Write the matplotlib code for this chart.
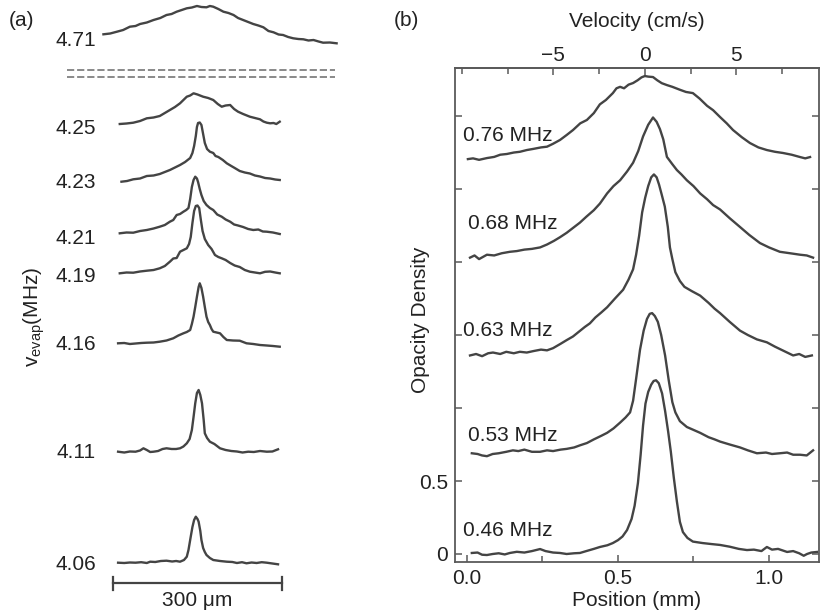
import matplotlib
matplotlib.use('Agg')
import matplotlib.pyplot as plt

plt.rcParams['font.family'] = ['Liberation Sans', 'DejaVu Sans']
plt.rcParams['mathtext.fontset'] = 'custom'
plt.rcParams['mathtext.rm'] = 'Liberation Sans'
plt.rcParams['font.size'] = 15

# ---------------- panel (a): profiles vs. evaporation frequency ----------------
# x in micrometres, heights in arbitrary units above each trace's own baseline
freqs_a = ['4.71', '4.25', '4.23', '4.21', '4.19', '4.16', '4.11', '4.06']
offsets_a = [57.1, 49.0, 43.2, 38.1, 34.1, 27.1, 16.2, 5.1]
label_y_a = [57.5, 48.7, 43.4, 37.7, 33.9, 27.1, 16.4, 5.1]

x471 = [-17, -5, 7, 18, 30, 40, 48, 60, 72, 84, 95, 104, 113, 122, 131, 140, 149, 157, 166, 172, 178, 187,
        196, 205, 214, 222, 231, 240, 249, 258, 267, 276, 285, 294, 302, 311, 320, 329, 338, 347, 356, 365,
        373, 385, 397]
h471 = [0.87, 0.95, 1.13, 1.3, 1.63, 1.7, 1.9, 2.05, 2.3, 2.5, 2.8, 2.9, 3.13, 3.3, 3.47, 3.55, 3.7, 3.6,
        3.57, 3.7, 3.63, 3.4, 3.13, 3.0, 2.8, 2.5, 2.3, 2.1, 1.9, 1.75, 1.57, 1.2, 1.07, 0.85, 0.8, 0.6, 0.47,
        0.4, 0.37, 0.25, 0.3, 0.15, 0.03, 0.05, -0.03]

x425 = [12, 24, 36, 48, 60, 72, 83, 92, 101, 110, 119, 125, 131, 137, 143, 150, 160, 169, 178, 186, 193,
        200, 208, 215, 222, 231, 243, 252, 261, 267, 273, 279, 285, 290, 296]
h425 = [0.0, 0.05, 0.13, 0.3, 0.57, 0.65, 0.8, 1.1, 1.4, 1.7, 2.07, 2.4, 2.73, 2.85, 3.07, 2.95, 2.73, 2.6,
        2.4, 2.0, 1.73, 1.85, 1.9, 1.5, 1.23, 1.0, 0.73, 0.6, 0.47, 0.25, 0.13, 0.07, 0.1, 0.0, 0.23]

x423 = [15, 25, 36, 48, 60, 72, 83, 92, 101, 110, 119, 128, 137, 141, 144, 147, 149, 151, 154, 157, 160,
        163, 167, 172, 178, 182, 187, 195, 202, 210, 217, 225, 234, 243, 252, 261, 270, 279, 288, 296]
h423 = [0.03, 0.1, 0.27, 0.35, 0.6, 0.65, 0.8, 1.0, 1.2, 1.45, 1.7, 2.0, 2.4, 2.9, 3.6, 4.6, 5.5, 5.9,
        5.95, 5.7, 4.8, 3.9, 3.3, 3.03, 2.9, 2.6, 2.5, 2.2, 1.87, 1.6, 1.37, 1.1, 0.95, 0.85, 0.65, 0.55,
        0.4, 0.35, 0.25, 0.2]

x421 = [12, 24, 36, 48, 60, 72, 83, 92, 101, 107, 113, 119, 125, 130, 134, 137, 140, 143, 146, 149, 151,
        154, 157, 161, 166, 172, 178, 185, 193, 200, 208, 215, 222, 231, 240, 249, 258, 266, 273, 284, 296]
h421 = [-0.03, 0.05, 0.03, 0.2, 0.3, 0.45, 0.63, 0.8, 1.13, 1.3, 1.8, 1.9, 2.13, 2.3, 2.5, 3.4, 4.6, 5.3,
        5.63, 5.45, 5.1, 4.4, 3.8, 3.2, 2.8, 2.5, 2.3, 1.85, 1.63, 1.35, 1.13, 0.85, 0.75, 0.6, 0.4, 0.3,
        0.35, 0.15, 0.13, 0.05, -0.1]

x419 = [12, 24, 36, 48, 60, 72, 83, 92, 101, 107, 113, 119, 125, 131, 135, 138, 141, 144, 147, 150, 153,
        156, 159, 163, 169, 175, 181, 187, 193, 200, 208, 216, 225, 234, 243, 252, 261, 270, 279, 288, 296]
h419 = [-0.03, 0.05, 0.03, 0.15, 0.23, 0.3, 0.47, 0.7, 1.13, 1.45, 1.5, 2.13, 2.3, 2.47, 2.9, 3.6, 5.0,
        6.2, 6.7, 6.75, 6.5, 5.3, 4.2, 3.4, 2.8, 2.4, 1.8, 1.6, 1.47, 1.3, 1.0, 0.75, 0.6, 0.3, 0.13, 0.05,
        -0.03, 0.12, 0.15, 0.05, -0.03]

x416 = [9, 20, 30, 40, 50, 60, 72, 83, 95, 107, 116, 125, 131, 137, 140, 143, 146, 149, 152, 154, 157,
        160, 163, 166, 169, 172, 175, 178, 184, 190, 196, 202, 213, 225, 237, 249, 261, 273, 284, 296]
h416 = [-0.03, 0.0, -0.1, -0.05, 0.0, 0.03, 0.05, 0.13, 0.25, 0.47, 0.75, 0.97, 1.1, 1.3, 1.9, 2.63, 3.6,
        4.63, 5.6, 5.97, 5.5, 4.63, 3.6, 2.63, 2.1, 1.8, 1.4, 1.13, 1.05, 0.97, 0.6, 0.3, 0.25, 0.23, -0.03,
        -0.1, -0.2, -0.25, -0.3, -0.37]

x411 = [9, 20, 30, 40, 48, 54, 60, 66, 72, 80, 88, 95, 104, 112, 119, 125, 131, 136, 140, 143, 146, 149,
        152, 155, 158, 161, 163, 167, 172, 180, 190, 200, 210, 220, 230, 240, 250, 261, 273, 283, 293]
h411 = [0.03, -0.05, 0.05, 0.03, 0.15, 0.37, 0.2, 0.0, 0.03, 0.1, 0.3, 0.37, 0.3, 0.3, 0.37, 0.55, 0.87,
        1.3, 2.2, 3.5, 4.87, 5.9, 6.2, 5.7, 4.87, 3.2, 1.87, 1.4, 1.03, 0.8, 0.37, 0.2, 0.1, 0.05, -0.05,
        0.03, 0.0, 0.1, 0.03, 0.05, 0.27]

x406 = [9, 20, 30, 40, 50, 60, 66, 75, 85, 95, 105, 112, 119, 126, 131, 134, 138, 141, 144, 147, 150, 152,
        155, 157, 160, 163, 166, 172, 178, 190, 202, 212, 220, 229, 237, 246, 255, 264, 273, 283, 293]
h406 = [0.03, 0.0, 0.05, 0.03, 0.08, 0.0, 0.13, 0.1, 0.2, 0.23, 0.15, 0.2, 0.13, 0.3, 0.63, 1.3, 2.63, 3.6,
        4.3, 4.63, 4.4, 4.13, 3.2, 2.3, 1.5, 1.1, 0.8, 0.5, 0.3, 0.2, 0.13, 0.1, 0.0, 0.08, -0.03, 0.05, 0.0,
        0.08, 0.03, -0.05, -0.13]

traces_a = [(x471, h471), (x425, h425), (x423, h423), (x421, h421),
            (x419, h419), (x416, h416), (x411, h411), (x406, h406)]
break_y = [54.4, 53.7]
scale_um = 300

# ---------------- panel (b): opacity density vs. position ----------------
freqs_b = ['0.76 MHz', '0.68 MHz', '0.63 MHz', '0.53 MHz', '0.46 MHz']
label_pos_b = [(-0.013, 2.87), (0.003, 2.267), (-0.013, 1.534), (0.003, 0.815), (-0.013, 0.164)]

x076 = [0.003, 0.02, 0.04, 0.066, 0.09, 0.11, 0.132, 0.155, 0.175, 0.198, 0.22, 0.245, 0.265, 0.285, 0.308,
        0.33, 0.351, 0.375, 0.397, 0.42, 0.44, 0.46, 0.483, 0.495, 0.507, 0.52, 0.535, 0.55, 0.565, 0.578,
        0.589, 0.60, 0.616, 0.63, 0.645, 0.662, 0.68, 0.705, 0.725, 0.748, 0.77, 0.795, 0.815, 0.838, 0.86,
        0.881, 0.91, 0.937, 0.965, 0.993, 1.02, 1.046, 1.075, 1.103, 1.12, 1.136]
y076 = [2.705, 2.71, 2.70, 2.712, 2.72, 2.735, 2.74, 2.75, 2.755, 2.767, 2.775, 2.785, 2.79, 2.81, 2.836,
        2.87, 2.904, 2.95, 2.973, 3.02, 3.08, 3.11, 3.157, 3.19, 3.2, 3.19, 3.215, 3.226, 3.245, 3.265,
        3.274, 3.27, 3.267, 3.245, 3.225, 3.212, 3.20, 3.18, 3.165, 3.157, 3.12, 3.07, 3.04, 2.993, 2.95,
        2.904, 2.855, 2.815, 2.785, 2.767, 2.755, 2.747, 2.735, 2.719, 2.71, 2.719]

x068 = [0.01, 0.025, 0.04, 0.066, 0.09, 0.115, 0.142, 0.165, 0.19, 0.215, 0.242, 0.265, 0.288, 0.308, 0.33,
        0.352, 0.374, 0.395, 0.42, 0.44, 0.464, 0.485, 0.507, 0.53, 0.55, 0.567, 0.583, 0.60, 0.616, 0.628,
        0.639, 0.65, 0.662, 0.68, 0.695, 0.71, 0.728, 0.75, 0.772, 0.795, 0.815, 0.838, 0.87, 0.904, 0.935,
        0.97, 1.0, 1.036, 1.07, 1.103, 1.125, 1.146]
y068 = [2.03, 2.045, 2.02, 2.05, 2.045, 2.06, 2.07, 2.075, 2.085, 2.09, 2.10, 2.12, 2.145, 2.17, 2.20,
        2.235, 2.27, 2.31, 2.355, 2.40, 2.47, 2.52, 2.56, 2.62, 2.68, 2.76, 2.86, 2.94, 2.99, 2.96, 2.91,
        2.84, 2.72, 2.67, 2.63, 2.60, 2.56, 2.52, 2.47, 2.43, 2.39, 2.36, 2.30, 2.24, 2.185, 2.13, 2.10,
        2.07, 2.06, 2.05, 2.045, 2.03]

x063 = [0.01, 0.03, 0.05, 0.07, 0.086, 0.11, 0.13, 0.155, 0.175, 0.198, 0.22, 0.245, 0.265, 0.285, 0.31,
        0.33, 0.351, 0.375, 0.39, 0.407, 0.425, 0.445, 0.464, 0.49, 0.517, 0.535, 0.55, 0.56, 0.57, 0.58,
        0.59, 0.60, 0.61, 0.619, 0.628, 0.636, 0.645, 0.655, 0.665, 0.672, 0.68, 0.69, 0.705, 0.72, 0.745,
        0.772, 0.80, 0.82, 0.838, 0.87, 0.904, 0.93, 0.96, 0.993, 1.02, 1.05, 1.08, 1.10, 1.12, 1.142]
y063 = [1.36, 1.37, 1.355, 1.375, 1.38, 1.37, 1.385, 1.375, 1.385, 1.38, 1.39, 1.40, 1.395, 1.41, 1.44,
        1.465, 1.49, 1.53, 1.555, 1.58, 1.62, 1.655, 1.69, 1.75, 1.81, 1.88, 1.95, 2.05, 2.18, 2.34, 2.44,
        2.52, 2.58, 2.60, 2.58, 2.53, 2.46, 2.38, 2.24, 2.10, 2.02, 1.93, 1.87, 1.83, 1.80, 1.77, 1.72,
        1.68, 1.65, 1.59, 1.53, 1.50, 1.47, 1.45, 1.42, 1.39, 1.36, 1.37, 1.35, 1.36]

x053 = [0.016, 0.035, 0.05, 0.066, 0.085, 0.105, 0.13, 0.152, 0.17, 0.19, 0.215, 0.242, 0.265, 0.285, 0.31,
        0.33, 0.355, 0.375, 0.397, 0.42, 0.445, 0.464, 0.485, 0.507, 0.525, 0.54, 0.55, 0.56, 0.573, 0.585,
        0.596, 0.605, 0.613, 0.622, 0.632, 0.643, 0.656, 0.668, 0.68, 0.69, 0.705, 0.728, 0.75, 0.772, 0.80,
        0.82, 0.838, 0.87, 0.904, 0.93, 0.96, 0.99, 1.01, 1.036, 1.06, 1.08, 1.103, 1.125, 1.146]
y053 = [0.69, 0.685, 0.675, 0.67, 0.685, 0.69, 0.70, 0.71, 0.705, 0.715, 0.70, 0.70, 0.71, 0.705, 0.715,
        0.72, 0.73, 0.745, 0.76, 0.785, 0.81, 0.83, 0.86, 0.90, 0.935, 0.97, 1.05, 1.20, 1.40, 1.53, 1.61,
        1.645, 1.65, 1.63, 1.59, 1.50, 1.36, 1.19, 1.04, 0.97, 0.91, 0.87, 0.85, 0.83, 0.80, 0.785, 0.77,
        0.75, 0.73, 0.71, 0.69, 0.695, 0.685, 0.69, 0.695, 0.68, 0.68, 0.675, 0.71]

x046 = [0.016, 0.035, 0.05, 0.066, 0.085, 0.105, 0.125, 0.142, 0.165, 0.19, 0.215, 0.242, 0.26, 0.285,
        0.308, 0.33, 0.355, 0.374, 0.395, 0.42, 0.44, 0.465, 0.483, 0.50, 0.515, 0.53, 0.545, 0.555, 0.566,
        0.575, 0.583, 0.591, 0.60, 0.61, 0.618, 0.626, 0.635, 0.646, 0.656, 0.666, 0.675, 0.685, 0.695,
        0.705, 0.715, 0.73, 0.748, 0.78, 0.81, 0.838, 0.87, 0.90, 0.927, 0.95, 0.975, 0.993, 1.01, 1.03,
        1.06, 1.08, 1.10, 1.115, 1.126, 1.14, 1.159]
y046 = [0.007, 0.01, -0.005, -0.007, 0.0, 0.005, -0.003, 0.007, 0.015, 0.01, 0.02, 0.034, 0.02, 0.01,
        0.007, 0.0, 0.005, 0.007, 0.02, 0.035, 0.048, 0.06, 0.075, 0.095, 0.12, 0.164, 0.24, 0.33, 0.486,
        0.68, 0.88, 1.03, 1.11, 1.16, 1.185, 1.19, 1.17, 1.10, 0.98, 0.84, 0.70, 0.52, 0.36, 0.22, 0.15,
        0.11, 0.085, 0.075, 0.068, 0.062, 0.05, 0.035, 0.027, 0.03, 0.02, 0.048, 0.03, 0.035, 0.014, 0.02,
        0.005, -0.012, 0.0, 0.01, 0.014]

traces_b = [(x076, y076), (x068, y068), (x063, y063), (x053, y053), (x046, y046)]

# velocity axis: 0 cm/s sits at 0.589 mm, 1 cm/s spans 0.0606 mm
v0_mm = 0.589
mm_per_cms = 0.0606

line_c = '#444444'
axis_c = '#5a5a5a'
text_c = '#222222'

fig = plt.figure(figsize=(8.24, 6.14), dpi=100)

# ---- (a)
axa = fig.add_axes([100 / 824, 0, 245 / 824, 1])
for (xs, hs), off in zip(traces_a, offsets_a):
    axa.plot(xs, [off + h for h in hs], color=line_c, lw=1.7)
for yb in break_y:
    axa.plot([-82, 394], [yb, yb], color='#808080', lw=1.3, ls=(0, (4, 1.6)), clip_on=False)
axa.plot([0, scale_um], [3.1, 3.1], color=line_c, lw=1.6)
axa.plot([0, 0], [2.45, 3.75], color=line_c, lw=1.6)
axa.plot([scale_um, scale_um], [2.45, 3.75], color=line_c, lw=1.6)
axa.text(scale_um / 2, 1.4, '300 μm', ha='center', va='center', color=text_c)
axa.set_xlim(-23.1, 411.9)
axa.set_ylim(0, 61.4)
for s in axa.spines.values():
    s.set_visible(False)
axa.set_xticks([])
axa.set_yticks(label_y_a)
axa.set_yticklabels(freqs_a)
axa.tick_params(axis='y', length=0, pad=3, labelcolor=text_c)
axa.patch.set_alpha(0)

fig.text(34 / 824, 1 - 317 / 614, r'v$_{\mathregular{evap}}$(MHz)', rotation=90,
         ha='center', va='center', color=text_c)
fig.text(21 / 824, 1 - 20 / 614, '(a)', ha='center', va='center', color=text_c)
fig.text(406 / 824, 1 - 20 / 614, '(b)', ha='center', va='center', color=text_c)

# ---- (b)
ax = fig.add_axes([455 / 824, 1 - 562 / 614, 364 / 824, 494 / 614])
for (xs, ys) in traces_b:
    ax.plot(xs, ys, color=line_c, lw=1.7)
for name, (tx, ty) in zip(freqs_b, label_pos_b):
    ax.text(tx, ty, name, ha='left', va='center', color=text_c)

ax.set_xlim(-0.0397, 1.1656)
ax.set_ylim(-0.0548, 3.329)
ax.set_xticks([0, 0.5, 1.0])
ax.set_xticklabels(['0.0', '0.5', '1.0'])
ax.set_xticks([0.25, 0.75], minor=True)
ax.set_yticks([0, 0.5, 1.0, 1.5, 2.0, 2.5, 3.0])
ax.set_yticklabels(['0', '0.5', '', '', '', '', ''])
ax.tick_params(axis='both', which='both', direction='in', color=axis_c, labelcolor=text_c, width=1.1)
ax.tick_params(axis='x', which='major', length=5, pad=5, top=False)
ax.tick_params(axis='x', which='minor', length=4, top=False)
ax.tick_params(axis='y', length=5, pad=5, right=True)
for s in ax.spines.values():
    s.set_color(axis_c)
    s.set_linewidth(1.3)
ax.set_xlabel('Position (mm)', color=text_c, labelpad=2)
ax.set_ylabel('Opacity Density', color=text_c)
ax.yaxis.set_label_coords(-0.0687, 0.49)

sec = ax.secondary_xaxis('top', functions=(lambda x: (x - v0_mm) / mm_per_cms,
                                          lambda v: v0_mm + v * mm_per_cms))
sec.set_xticks([-5, 0, 5])
sec.set_xticks([-10, -7.5, -2.5, 2.5, 7.5], minor=True)
sec.tick_params(axis='x', which='both', direction='in', color=axis_c, labelcolor=text_c, width=1.1)
sec.tick_params(axis='x', which='major', length=5, pad=2)
sec.tick_params(axis='x', which='minor', length=4)
sec.spines['top'].set_color(axis_c)
sec.spines['top'].set_linewidth(1.3)
sec.set_xlabel('Velocity (cm/s)', color=text_c, labelpad=14)

fig.savefig('out.png', dpi=100)
